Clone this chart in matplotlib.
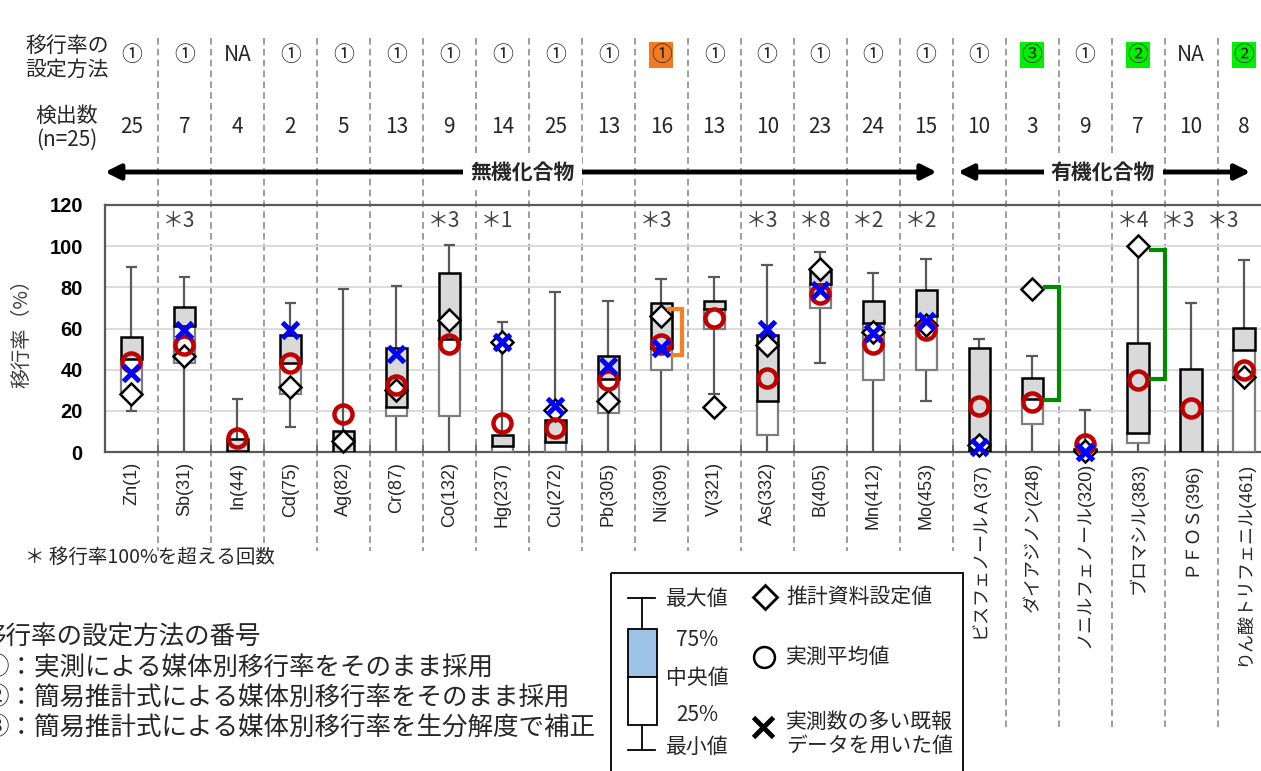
import numpy as np
import matplotlib
matplotlib.use("Agg")
import matplotlib.pyplot as plt
import matplotlib.transforms as mtransforms
from matplotlib.patches import Rectangle

plt.rcParams['font.family'] = ['Noto Sans CJK JP', 'DejaVu Sans']

# ---- data ----
names = ['Zn(1)', 'Sb(31)', 'In(44)', 'Cd(75)', 'Ag(82)', 'Cr(87)', 'Co(132)', 'Hg(237)',
         'Cu(272)', 'Pb(305)', 'Ni(309)', 'V(321)', 'As(332)', 'B(405)', 'Mn(412)', 'Mo(453)',
         'ビスフェノールＡ(37)', 'ダイアジノン(248)', 'ノニルフェノール(320)', 'ブロマシル(383)',
         'ＰＦＯＳ(396)', 'りん酸トリフェニル(461)']
methods = ['①', '①', 'NA', '①', '①', '①', '①', '①', '①', '①', '①', '①', '①', '①', '①', '①',
           '①', '③', '①', '②', 'NA', '②']
counts = [25, 7, 4, 2, 5, 13, 9, 14, 25, 13, 16, 13, 10, 23, 24, 15, 10, 3, 9, 7, 10, 8]
over100 = [0, 3, 0, 0, 0, 0, 3, 1, 0, 0, 3, 0, 3, 8, 2, 2, 0, 0, 0, 4, 3, 3]

v_min = [20, 0, 0, 12, 0, 0, 0, 0, 0, 0, 0, 28, 0, 43, 0, 25, 0, 0, 0, 0, 0, 0]
v_q1 = [29, 43, 0, 28, 0, 17.5, 17.5, 0, 0, 19, 40, 60, 8.3, 70, 35, 40, 0, 13.4, 0, 4.2, 0, 0]
v_med = [45, 61, 0.5, 43, 0, 22, 55, 3, 5, 35.3, 50.7, 69.3, 24.8, 81.5, 62.5, 66, 0.5, 25.8, 0.3, 9.4, 0, 49.6]
v_q3 = [56, 70.3, 6.3, 56.8, 10.3, 50.7, 87, 8.3, 15.5, 46.8, 72.2, 73.5, 56.8, 88, 73.5, 78.7,
        50.7, 36.1, 1.5, 52.8, 40.3, 60.1]
v_max = [90, 85, 25.8, 72.2, 79, 80.7, 100.6, 63, 77.6, 73.5, 84, 85, 91, 97.3, 87, 94,
         54.8, 46.6, 20.4, 97, 72.6, 93.3]

nan = np.nan
estimate = [28, 46.5, nan, 31.5, 5.5, 30, 64, 53.3, 20.4, 25, 66, 22, 52, 89, 58.5, 61.7,
            3.4, 79, 0.5, 100, nan, 36.3]
measured_mean = [43.5, 52, 7, 43, 18.5, 32.6, 52.5, 14, 11.5, 35, 52.5, 65.3, 36, 77, 52.5, 59.3,
                 22.5, 24.5, 3.9, 35, 21.2, 39.8]
prior_report = [38.5, 59.3, nan, 59.3, nan, 47.5, nan, 53.6, 22.3, 42, 50.4, nan, 59.6, 78.7, 57.7, 63.8,
                2.6, nan, 0, nan, nan, nan]

bracket_idx = [10, 17, 19]
bracket_top = [69.3, 80.3, 98.2]
bracket_bot = [47, 25.3, 35.5]
bracket_col = ['#F58220', '#008A00', '#008A00']
method_bg = {10: '#F37A1F', 17: '#00F000', 19: '#00F000', 21: '#00F000'}

n = len(names)
x = np.arange(n)

W, H = 1261, 771
fig = plt.figure(figsize=(W / 100, H / 100), dpi=100)

# overlay in pixel coordinates for the table, footnotes and legend
ov = fig.add_axes([0, 0, 1, 1])
ov.set_xlim(0, W)
ov.set_ylim(H, 0)
ov.set_autoscale_on(False)
ov.axis('off')
ov.set_zorder(0)

ax = fig.add_axes([105 / W, (H - 452) / H, (1270.5 - 105) / W, 247 / H])
ax.set_zorder(1)
ax.patch.set_alpha(0)
ax.set_xlim(-0.5, n - 0.5)
ax.set_ylim(0, 120)

trans = mtransforms.blended_transform_factory(ax.transData, ov.transData)

# grid and frame
ax.set_yticks(np.arange(0, 121, 20))
for g in range(20, 120, 20):
    ax.axhline(g, color='#D9D9D9', lw=1.3, zorder=0)
for s in ['left', 'bottom', 'top']:
    ax.spines[s].set_color('#595959')
    ax.spines[s].set_linewidth(1.6)
ax.spines['right'].set_visible(False)
ax.tick_params(axis='y', length=0, pad=16)
for lab in ax.get_yticklabels():
    lab.set_family(['Liberation Sans', 'DejaVu Sans'])
    lab.set_fontweight('bold')
    lab.set_fontsize(14.5)
ax.set_xticks(x)
ax.set_xticklabels(names, rotation=90, va='top', ha='center', fontsize=13,
                   family=['Liberation Sans', 'Noto Sans CJK JP'], color='#262626')
ax.tick_params(axis='x', length=0, pad=7)
ax.set_xticks(np.arange(0.5, n - 1, 1), minor=True)
ax.tick_params(axis='x', which='minor', direction='in', length=5, color='#595959', width=1.2)

# boxes
bw = 0.4
cw = 0.22
for i in range(n):
    ax.vlines(i, v_q3[i], v_max[i], color='#595959', lw=1.6, zorder=2)
    ax.vlines(i, v_min[i], v_q1[i], color='#595959', lw=1.6, zorder=2)
    ax.hlines(v_max[i], i - cw / 2, i + cw / 2, color='#595959', lw=1.6, zorder=2)
    if v_min[i] > 0:
        ax.hlines(v_min[i], i - cw / 2, i + cw / 2, color='#595959', lw=1.6, zorder=2)
    if v_med[i] - v_q1[i] > 0:
        ax.bar(i, v_med[i] - v_q1[i], bw, bottom=v_q1[i], color='white',
               edgecolor='#7F7F7F', lw=1.6, zorder=3)
    ax.bar(i, v_q3[i] - v_med[i], bw, bottom=v_med[i], color='#D9D9D9',
           edgecolor='black', lw=1.8, zorder=4)

ax.plot(x, estimate, ls='none', marker='D', ms=11.5, mfc='white', mec='black', mew=1.8, zorder=5,
        clip_on=False)
ax.plot(x, measured_mean, ls='none', marker='o', ms=13, mfc='none', mec='#C00000', mew=3.2, zorder=6,
        clip_on=False)
ax.plot(x, prior_report, ls='none', marker='x', ms=12, mec='#0000FF', mew=3.6, zorder=7,
        clip_on=False)

for k, i in enumerate(bracket_idx):
    xr = i + (0.4 if i == 10 else 0.5)
    ax.plot([xr - 0.25, xr, xr, xr - 0.25], [bracket_top[k], bracket_top[k], bracket_bot[k], bracket_bot[k]],
            color=bracket_col[k], lw=3, zorder=5, solid_joinstyle='miter')

ast_off = [-0.1] * n
ast_off[20] = -0.23
ast_off[21] = -0.4
for i in range(n):
    if over100[i]:
        ax.text(i + ast_off[i], 112, '＊' + str(over100[i]), ha='center', va='center',
                fontsize=15, color='#404040')

# dashed dividers
for b in range(n - 1):
    y_end = 551 if b <= 15 else 727
    ov.plot([b + 0.5, b + 0.5], [38, y_end], transform=trans, color='#8C8C8C', lw=1.2,
            ls=(0, (4, 2.5)), zorder=1)

# top table
tc = '#262626'
ov.text(67, 58, '移行率の\n設定方法', ha='center', va='center', fontsize=15, color=tc, linespacing=1.15)
ov.text(67, 128, '検出数\n(n=25)', ha='center', va='center', fontsize=15, color=tc, linespacing=1.15)
for i in range(n):
    bb = None
    if i in method_bg:
        bb = dict(boxstyle='square,pad=0.08', fc=method_bg[i], ec='none')
    ov.text(i, 55, methods[i], transform=trans, ha='center', va='center', fontsize=15, color=tc,
            bbox=bb, zorder=3)
    ov.text(i, 127, str(counts[i]), transform=trans, ha='center', va='center', fontsize=15, color=tc,
            zorder=3)

# group arrows
arrow_kw = dict(arrowstyle='<|-|>,head_length=0.9,head_width=0.45', lw=3.5, color='black',
                shrinkA=0, shrinkB=0)
ov.annotate('', xy=(15.2, 172), xytext=(-0.5, 172), xycoords=trans, textcoords=trans,
            arrowprops=arrow_kw, zorder=3)
ov.annotate('', xy=(21.12, 172), xytext=(15.6, 172), xycoords=trans, textcoords=trans,
            arrowprops=arrow_kw, zorder=3)
ov.text(7.38, 172, '無機化合物', transform=trans, ha='center', va='center', fontsize=15,
        fontweight='bold', color=tc, bbox=dict(boxstyle='square,pad=0.35', fc='white', ec='none'), zorder=4)
ov.text(18.34, 172, '有機化合物', transform=trans, ha='center', va='center', fontsize=15,
        fontweight='bold', color=tc, bbox=dict(boxstyle='square,pad=0.35', fc='white', ec='none'), zorder=4)

# y label
ov.text(22, 328, '移行率（%）', rotation=90, ha='center', va='center', fontsize=14.5, color='#404040')

# footnotes (left edge is cut off in the original as well)
ov.text(25, 557, '＊ 移行率100%を超える回数', ha='left', va='center', fontsize=14, color=tc)
notes = ['移行率の設定方法の番号',
         '①：実測による媒体別移行率をそのまま採用',
         '②：簡易推計式による媒体別移行率をそのまま採用',
         '③：簡易推計式による媒体別移行率を生分解度で補正']
for k, t in enumerate(notes):
    ov.text(-20 if k == 0 else -17, 638 + 30.3 * k, t, ha='left', va='center', fontsize=18.4, color=tc)

# legend box
ov.add_patch(Rectangle((611, 573), 352, 240, fill=False, ec='black', lw=1.3, zorder=2))
ov.plot([628, 655], [598, 598], color='black', lw=1.3)
ov.plot([628, 655], [750, 750], color='black', lw=1.3)
ov.plot([642, 642], [598, 629], color='black', lw=1.3)
ov.plot([642, 642], [725, 750], color='black', lw=1.3)
ov.add_patch(Rectangle((628, 629), 29, 48, fc='#9DC3E6', ec='black', lw=1.3))
ov.add_patch(Rectangle((628, 677), 29, 48, fc='white', ec='black', lw=1.3))
for t, yy in [('最大値', 599), ('75%', 640), ('中央値', 678), ('25%', 715), ('最小値', 747)]:
    ov.text(697, yy, t, ha='center', va='center', fontsize=15, color=tc)
ov.plot([765], [597], marker='D', ms=12, mfc='white', mec='black', mew=2)
ov.plot([764], [657], marker='o', ms=15, mfc='white', mec='black', mew=1.8)
ov.plot([763], [727], marker='x', ms=15, mec='black', mew=3.5)
ov.text(786, 597, '推計資料設定値', ha='left', va='center', fontsize=15, color=tc)
ov.text(786, 657, '実測平均値', ha='left', va='center', fontsize=15, color=tc)
ov.text(786, 722, '実測数の多い既報', ha='left', va='center', fontsize=15, color=tc)
ov.text(786, 746, 'データを用いた値', ha='left', va='center', fontsize=15, color=tc)

fig.savefig('out.png', dpi=100)
